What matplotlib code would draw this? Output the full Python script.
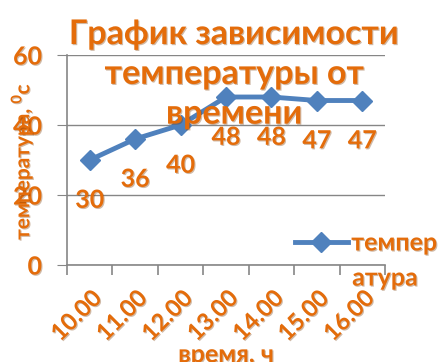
import matplotlib
matplotlib.use("Agg")
import matplotlib.pyplot as plt
import matplotlib.patheffects as pe

categories = ["10.00", "11.00", "12.00", "13.00", "14.00", "15.00", "16.00"]
temps = [30, 36, 40, 48, 48, 47, 47]
series_name = "темпер"
series_name_cont = "атура"
title = "График зависимости\nтемпературы от\nвремени"
xlabel = "время, ч"
ylabel = "температура, $^{0}$с"
yticks = [0, 20, 40, 60]

ORANGE = "#E46C0A"
BLUE = "#4F81BD"
GRID = "#868686"
plt.rcParams['font.family'] = ['Lato', 'DejaVu Sans']
plt.rcParams['mathtext.fontset'] = 'custom'
plt.rcParams['mathtext.rm'] = 'Lato:bold'
shadow = [pe.withSimplePatchShadow(offset=(0.8, -0.8), shadow_rgbFace="#7a3a05", alpha=0.35)]

fig = plt.figure(figsize=(4.38, 3.62), dpi=100)
ax = fig.add_axes([0.153, 0.268, 0.726, 0.580])
x = list(range(len(categories)))
line, = ax.plot(x, temps, color=BLUE, lw=3.5, marker="D", ms=10, mfc=BLUE, mec=BLUE, zorder=3)
ax.set_xlim(-0.5, len(categories) - 0.5)
ax.set_ylim(0, 60)
ax.set_yticks(yticks)
ax.yaxis.grid(True, color=GRID, lw=1)
ax.set_axisbelow(True)
for s in ["top", "right"]:
    ax.spines[s].set_visible(False)
for s in ["left", "bottom"]:
    ax.spines[s].set_color(GRID)
    ax.spines[s].set_linewidth(1.2)
ax.tick_params(axis="y", colors=GRID, length=7, labelcolor=ORANGE, labelsize=18, pad=11)
ax.set_xticks(x)
ax.set_xticklabels(categories, rotation=45, ha="right", rotation_mode="anchor",
                   color=ORANGE, fontsize=17, fontweight="bold")
ax.tick_params(axis="x", length=0, pad=15)
ax.set_xticks([i - 0.5 for i in range(len(categories) + 1)], minor=True)
ax.tick_params(axis="x", which="minor", length=7, color=GRID, width=1.2)
for lab in ax.get_yticklabels():
    lab.set_fontweight("bold")
    lab.set_path_effects(shadow)
for lab in ax.get_xticklabels():
    lab.set_path_effects(shadow)

for xi, v in zip(x, temps):
    ax.annotate(str(v), (xi, v), xytext=(0, -29), textcoords="offset points",
                ha="center", va="center", color=ORANGE, fontsize=18, fontweight="bold",
                path_effects=shadow, zorder=4)

fig.text(0.535, 0.796, title, ha="center", va="center", fontsize=24.5, fontweight="bold",
         color=ORANGE, linespacing=1.3, path_effects=shadow)
fig.text(0.05, 0.555, ylabel, rotation=90, ha="center", va="center", fontsize=15,
         fontweight="bold", color=ORANGE, path_effects=shadow)
fig.text(0.516, 0.052, xlabel, ha="center", va="top", fontsize=18,
         fontweight="bold", color=ORANGE, path_effects=shadow)

# legend
leg = ax.legend([line], [series_name], loc="center left", bbox_to_anchor=(0.717, 0.105),
                frameon=False, fontsize=18, handlelength=2.1, handletextpad=0.15,
                borderpad=0, borderaxespad=0)
for t in leg.get_texts():
    t.set_color(ORANGE)
    t.set_fontweight("bold")
    t.set_path_effects(shadow)
leg.set_zorder(5)
fig.text(0.804, 0.232, series_name_cont, ha="left", va="center", fontsize=18,
         fontweight="bold", color=ORANGE, path_effects=shadow)

fig.savefig("out.png", dpi=100)
